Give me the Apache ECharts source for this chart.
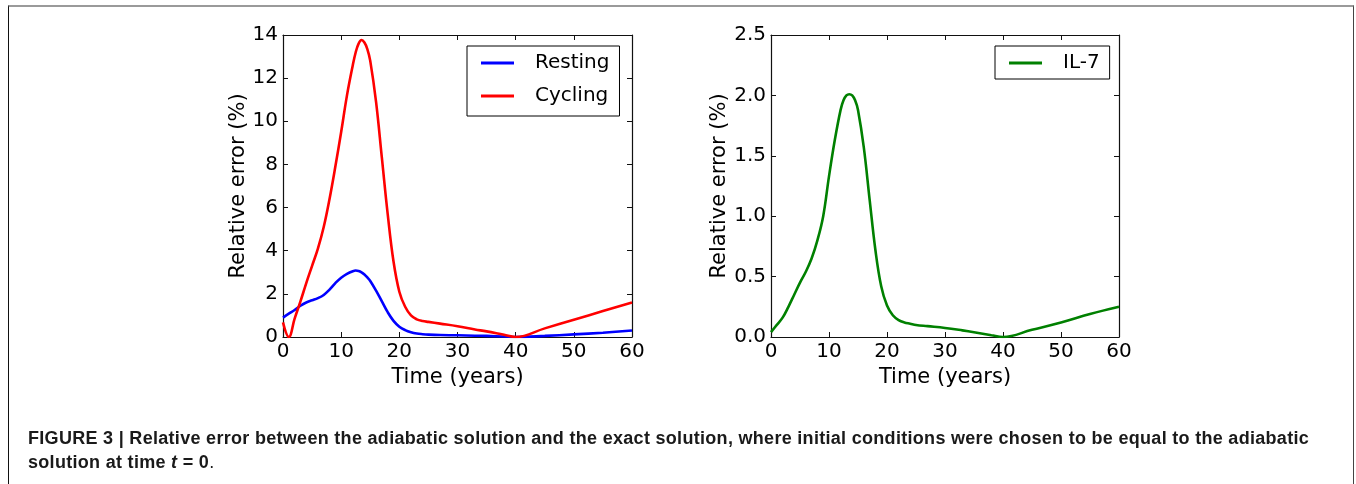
<!DOCTYPE html>
<html>
<head>
<meta charset="utf-8">
<script src="https://cdn.jsdelivr.net/npm/echarts@6/dist/echarts.min.js"></script>
<style>
  html, body { margin: 0; padding: 0; background: #fff; }
  #chart { position: absolute; left: 0; top: 0; width: 1356px; height: 484px; }
  #frame { position: absolute; left: 8px; top: 5px; width: 1344px; height: 520px;
           border-top: 2px solid #9a9a9a; border-left: 1px solid #111; border-right: 1px solid #444;
           pointer-events: none; }
  #caption { position: absolute; left: 28px; top: 426px; font-family: 'Liberation Sans', Arial, sans-serif;
             font-weight: bold; font-size: 18px; letter-spacing: 0.3px; line-height: 24px; color: #1a1a1a; white-space: nowrap; }
</style>
</head>
<body>
<div id="chart"></div>
<div id="frame"></div>
<div id="caption">FIGURE 3 | Relative error between the adiabatic solution and the exact solution, where initial conditions were chosen to be equal to the adiabatic<br>solution at time <i>t</i> = 0<span style="font-weight:normal">.</span></div>
<script>
// ---- data ----
const years = [0, 1, 2, 3, 4, 5, 6, 7, 8, 9, 10, 11, 12, 12.5, 13, 13.5, 14, 14.5, 15, 16, 17, 18, 19, 20, 21, 22, 23, 24, 25, 27, 30, 33, 35, 38, 40, 45, 50, 55, 60];
const restingVals = [0.9, 1.08, 1.25, 1.45, 1.6, 1.7, 1.8, 1.95, 2.2, 2.5, 2.75, 2.93, 3.05, 3.08, 3.06, 3.0, 2.9, 2.76, 2.6, 2.15, 1.65, 1.15, 0.75, 0.48, 0.32, 0.22, 0.16, 0.13, 0.11, 0.09, 0.08, 0.06, 0.05, 0.02, 0.0, 0.05, 0.12, 0.2, 0.3];
const cyclingVals = [0.68, 0.0, 0.85, 1.65, 2.5, 3.3, 4.1, 5.1, 6.4, 7.9, 9.5, 11.2, 12.6, 13.2, 13.6, 13.77, 13.65, 13.35, 12.8, 10.9, 8.3, 5.7, 3.5, 2.1, 1.4, 1.0, 0.82, 0.74, 0.7, 0.62, 0.5, 0.35, 0.26, 0.1, 0.0, 0.4, 0.8, 1.2, 1.6];
const il7Vals = [0.04, 0.1, 0.16, 0.25, 0.35, 0.45, 0.54, 0.65, 0.8, 1.0, 1.33, 1.63, 1.88, 1.96, 2.0, 2.01, 2.0, 1.96, 1.88, 1.57, 1.14, 0.72, 0.42, 0.26, 0.18, 0.14, 0.12, 0.11, 0.1, 0.09, 0.075, 0.055, 0.04, 0.015, 0.0, 0.06, 0.12, 0.19, 0.25];

const xRange = { min: 0, max: 60, interval: 10 };
const yRangeLeft = { min: 0, max: 14, interval: 2 };
const yRangeRight = { min: 0, max: 2.5, interval: 0.5 };
const xTitle = 'Time (years)';
const yTitle = 'Relative error (%)';

const pairs = vals => years.map((t, i) => [t, vals[i]]);

const FONT = 'DejaVu Sans';
const AX = '#111';
const labelStyle = { color: '#000', fontFamily: FONT, fontSize: 20 };

function xAx(grid, pos, withLabels) {
  return {
    type: 'value', gridIndex: grid, position: pos, ...xRange,
    name: withLabels ? xTitle : '', nameLocation: 'middle', nameGap: 25,
    nameTextStyle: { color: '#000', fontFamily: FONT, fontSize: 21 },
    axisLine: { show: true, onZero: false, lineStyle: { color: AX, width: 1.2 } },
    axisTick: { show: true, inside: true, length: 5, lineStyle: { color: AX, width: 1 } },
    axisLabel: withLabels ? { ...labelStyle, margin: 5, showMinLabel: true, showMaxLabel: true } : { show: false },
    splitLine: { show: false }
  };
}
function yAx(grid, pos, withLabels, range, fmt) {
  return {
    type: 'value', gridIndex: grid, position: pos, ...range,
    name: withLabels ? yTitle : '', nameLocation: 'middle', nameGap: 31, nameRotate: 90,
    nameTextStyle: { color: '#000', fontFamily: FONT, fontSize: 21 },
    axisLine: { show: true, onZero: false, lineStyle: { color: AX, width: 1.2 } },
    axisTick: { show: true, inside: true, length: 5, lineStyle: { color: AX, width: 1 } },
    axisLabel: withLabels ? { ...labelStyle, margin: 5, formatter: fmt, showMinLabel: true, showMaxLabel: true } : { show: false },
    splitLine: { show: false }
  };
}

const legendBase = {
  orient: 'vertical', icon: 'rect', itemWidth: 33, itemHeight: 3, itemGap: 11,
  borderColor: '#000', borderWidth: 1, backgroundColor: '#fff', borderRadius: 0,
  selectedMode: false,
  textStyle: { color: '#000', fontFamily: FONT, fontSize: 20, lineHeight: 22, padding: [0, 0, 0, 16] }
};

const chart = echarts.init(document.getElementById('chart'), null, { renderer: 'canvas' });
chart.setOption({
  animation: false,
  backgroundColor: 'transparent',
  grid: [
    { left: 283, top: 35, width: 349, height: 302, containLabel: false },
    { left: 771, top: 35, width: 348, height: 302, containLabel: false }
  ],
  xAxis: [xAx(0, 'bottom', true), xAx(0, 'top', false), xAx(1, 'bottom', true), xAx(1, 'top', false)],
  yAxis: [
    yAx(0, 'left', true, yRangeLeft, v => String(v)),
    yAx(0, 'right', false, yRangeLeft),
    yAx(1, 'left', true, yRangeRight, v => v.toFixed(1)),
    yAx(1, 'right', false, yRangeRight)
  ],
  legend: [
    { ...legendBase, left: 467, top: 46, padding: [6, 10, 9, 14], data: ['Resting', 'Cycling'] },
    { ...legendBase, left: 995, top: 46, padding: [6, 10, 5, 14], data: ['IL-7'] }
  ],
  series: [
    { name: 'Resting', type: 'line', xAxisIndex: 0, yAxisIndex: 0, data: pairs(restingVals),
      showSymbol: false, smooth: 0.4, color: '#0000ff', lineStyle: { width: 2.6, color: '#0000ff' } },
    { name: 'Cycling', type: 'line', xAxisIndex: 0, yAxisIndex: 0, data: pairs(cyclingVals),
      showSymbol: false, smooth: 0.4, color: '#ff0000', lineStyle: { width: 2.6, color: '#ff0000' } },
    { name: 'IL-7', type: 'line', xAxisIndex: 2, yAxisIndex: 2, data: pairs(il7Vals),
      showSymbol: false, smooth: 0.4, color: '#008000', lineStyle: { width: 2.6, color: '#008000' } }
  ]
});
</script>
</body>
</html>
